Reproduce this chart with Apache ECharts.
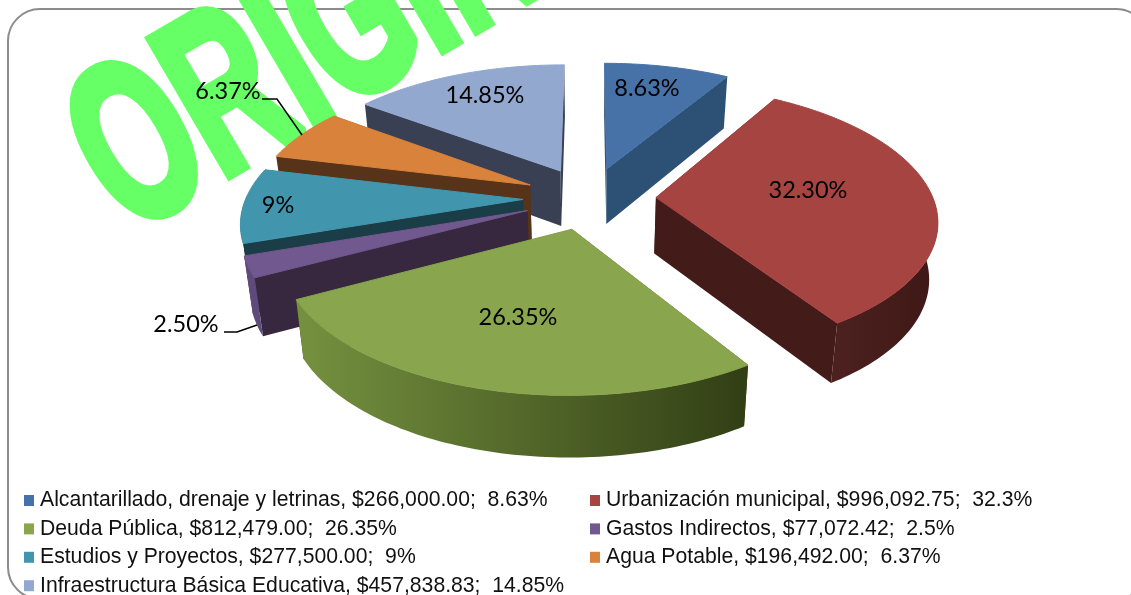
<!DOCTYPE html>
<html><head><meta charset="utf-8">
<style>html,body{margin:0;padding:0;background:#fff}#c{width:1131px;height:595px}</style>
<script src="https://cdn.jsdelivr.net/npm/echarts@6/dist/echarts.min.js"></script>
</head><body><div id="c"></div>
<script>
// ---- data ----
const categories = ['Alcantarillado, drenaje y letrinas','Urbanización municipal','Deuda Pública','Gastos Indirectos','Estudios y Proyectos','Agua Potable','Infraestructura Básica Educativa'];
const amounts = [266000.00, 996092.75, 812479.00, 77072.42, 277500.00, 196492.00, 457838.83];
const amountLabels = ['$266,000.00','$996,092.75','$812,479.00','$77,072.42','$277,500.00','$196,492.00','$457,838.83'];
const legendPercents = ['8.63%','32.3%','26.35%','2.5%','9%','6.37%','14.85%'];
const sliceLabels = ['8.63%','32.30%','26.35%','2.50%','9%','6.37%','14.85%'];

// ---- styles and layout ----
const topColors  = ['#4672a8','#a64442','#89a54e','#71588f','#4196ae','#d9823b','#93a8cf'];
const wallColors = ['#2d5075','#431b19','#2f3d14','#37273f','#1b3d48','#57331a','#3a4053'];
const rimColors  = [['#2d5075','#2d5075'],['#4d211f','#3f1917'],['#74903f','#323f15'],['#5f4a7c','#5f4a7c'],['#1b3d48','#1b3d48'],['#8a5a2a','#8a5a2a'],['#6f83a8','#6f83a8']];
const paintOrder = [1,6,7,5,4,3,2]; // z per slice: back to front
const labelXY = [[647,88],[808,190],[518,317],[186,324],[278,205],[228,91],[485,95]];
const leaders = {3:[[224,332],[237,332],[257,325]],5:[[262,99],[277,99],[302,135]]};
const PIE = {cx:589.5,cy:198,R:277,Ry:130,k:0.153,explode:0.24,depth:56,shrink:0.975};

const total = amounts.reduce((a,b)=>a+b,0);
const angles = []; { let a=0; amounts.forEach(v=>{const d=v/total*Math.PI*2; angles.push([a,a+d]); a+=d;}); }

function project(X,Y,low){
  const p = 1+PIE.k*Y;
  let px = PIE.cx+PIE.R*X/p, py = PIE.cy-PIE.Ry*Y/p;
  if(low){ px = PIE.cx+(px-PIE.cx)*PIE.shrink; py += PIE.depth/Math.sqrt(p); }
  return [px,py];
}
function sliceGeom(i){
  const [a0,a1]=angles[i], b=(a0+a1)/2, ex=PIE.explode*Math.sin(b), ey=PIE.explode*Math.cos(b);
  const rim=[], front=[]; const n=Math.max(4,Math.round((a1-a0)/0.02));
  for(let j=0;j<=n;j++){const t=a0+(a1-a0)*j/n; rim.push([ex+Math.sin(t),ey+Math.cos(t)]); front.push(Math.cos(t)<0.05);}
  return {apex:[ex,ey],rim,front};
}
function renderSlice(i){
  return function(){
    const g=sliceGeom(i), apT=project(g.apex[0],g.apex[1]), apL=project(g.apex[0],g.apex[1],true);
    const rimTop=g.rim.map(q=>project(q[0],q[1])), rimLow=g.rim.map(q=>project(q[0],q[1],true));
    const fT=rimTop.filter((q,j)=>g.front[j]), fL=rimLow.filter((q,j)=>g.front[j]);
    const wall=(pts)=>({type:'polygon',shape:{points:pts},style:{fill:wallColors[i],stroke:null},silent:true});
    const kids=[
      wall([apT,rimTop[0],rimLow[0],apL]),
      wall([apT,rimTop[rimTop.length-1],rimLow[rimLow.length-1],apL])
    ];
    if(fT.length>1){
      const xs=fL.map(q=>q[0]);
      const rimFill={type:'linear',global:true,x:Math.min(...xs),y:0,x2:Math.max(...xs),y2:0,
        colorStops:[{offset:0,color:rimColors[i][0]},{offset:1,color:rimColors[i][1]}]};
      kids.push({type:'polygon',shape:{points:fT.concat(fL.slice().reverse())},style:{fill:rimFill,stroke:null},silent:true});
    }
    kids.push(
      {type:'polygon',shape:{points:[apT].concat(rimTop)},style:{fill:topColors[i],stroke:topColors[i],lineWidth:1}},
      {type:'text',x:labelXY[i][0],y:labelXY[i][1],style:{text:sliceLabels[i],fill:'#000',font:'23.5px Lato',textAlign:'center',textVerticalAlign:'middle'},silent:true}
    );
    if(leaders[i]) kids.push({type:'polyline',shape:{points:leaders[i]},style:{stroke:'#000',lineWidth:1.5,fill:null},silent:true});
    return {type:'group',children:kids};
  };
}
const legendName = i => categories[i]+', '+amountLabels[i]+';  '+legendPercents[i];
const legendBase = {orient:'vertical',top:490,height:120,padding:0,itemWidth:10,itemHeight:11,itemGap:7.4,icon:'rect',selectedMode:false,
  textStyle:{fontFamily:'Liberation Sans',fontSize:21.2,color:'#111',padding:[0,0,0,1]}};

const chart = echarts.init(document.getElementById('c'),null,{renderer:'canvas'});
chart.setOption({
  animation:false,
  backgroundColor:'#fff',
  legend:[
    Object.assign({},legendBase,{left:24,data:[0,2,4,6].map(legendName)}),
    Object.assign({},legendBase,{left:590,data:[1,3,5].map(legendName)})
  ],
  graphic:[
    {type:'rect',z:-10,shape:{x:8,y:9,width:1140,height:590,r:32},style:{fill:'#fff',stroke:'#8c8c8c',lineWidth:2},silent:true},
    {type:'text',z:-5,x:153,y:279,rotation:0.53,scaleX:0.61,scaleY:1,
     style:{text:'ORIGINAL',font:'bold 228px "Liberation Sans"',fill:'#66ff66',stroke:'#66ff66',lineWidth:10,lineJoin:'miter',textAlign:'left',textVerticalAlign:'bottom'},silent:true}
  ],
  series:categories.map((c,i)=>({
    type:'custom',name:legendName(i),coordinateSystem:'none',z:2+paintOrder[i],
    itemStyle:{color:topColors[i]},data:[[amounts[i]]],renderItem:renderSlice(i)
  }))
});
</script></body></html>
